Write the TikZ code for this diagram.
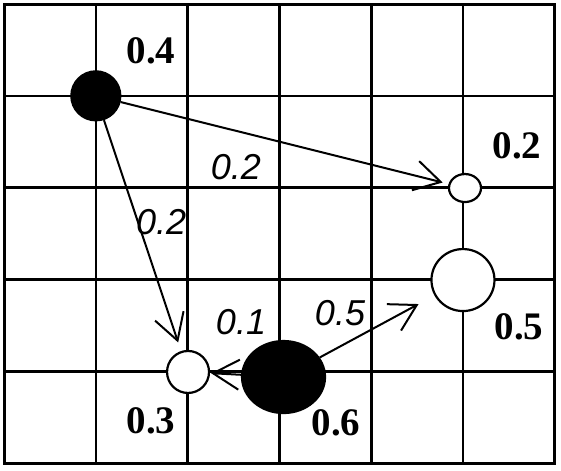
\documentclass[tikz,border=0pt]{standalone}
\usepackage{fontspec}
\setmainfont{Liberation Serif}
\newfontfamily\ratefont{Liberation Sans}
\usetikzlibrary{arrows.meta,shapes.geometric}
\tikzset{
  lat/line/.style ={line width=2.4pt, black},
  lat/frame/.style={line width=3pt, black},
  lat/site/.style ={ellipse, draw=black, line width=2.2pt, inner sep=0pt},
  lat/full/.style ={lat/site, fill=black},
  lat/empty/.style={lat/site, fill=white},
  lat/jump/.style ={-{Straight Barb[length=26pt, width=30pt]}, line width=2pt, black},
  lat/occ/.style  ={font=\fontsize{39}{39}\selectfont\bfseries, inner sep=0pt},
  lat/rate/.style ={font=\ratefont\fontsize{36}{36}\selectfont\itshape, inner sep=0pt}
}
\begin{document}
\begin{tikzpicture}[x=91.83pt, y=-91.83pt]
    \useasboundingbox (-0.0436,-0.0436) rectangle (6.0655,5.0746);
    % lattice: 6 x 5 cells
    \foreach \i in {1,...,5} { \draw[lat/line] (\i,0) -- (\i,5); }
    \foreach \j in {1,...,4} { \draw[lat/line] (0,\j) -- (6,\j); }
    \draw[lat/frame] (0,0) rectangle (6,5);
    % sites (size ~ occupation)
    \node[lat/full,  minimum width=49pt, minimum height=49pt] (a) at (1,1) {};
    \node[lat/empty, minimum width=32pt, minimum height=28pt] (b) at (5.02,2.004) {};
    \node[lat/empty, minimum width=63pt, minimum height=62pt] (e) at (4.998,3.006) {};
    \node[lat/empty, minimum width=42pt, minimum height=42pt] (c) at (2.004,4.007) {};
    \node[lat/full,  minimum width=83pt, minimum height=72pt] (d) at (3.044,4.062) {};
    % occupations
    \node[lat/occ] (occa) at (1.601,0.512) {0.4};
    \node[lat/occ] (occb) at (5.586,1.546) {0.2};
    \node[lat/occ] (occe) at (5.608,3.51)  {0.5};
    \node[lat/occ] (occc) at (1.601,4.541) {0.3};
    \node[lat/occ] (occd) at (3.615,4.563) {0.6};
    % jumps
    \draw[lat/jump, shorten >=6pt]  (a) -- (b);
    \draw[lat/jump, shorten >=9pt]  (a) -- (c);
    \draw[lat/jump, shorten >=1pt]  (d) -- (c);
    \draw[lat/jump, shorten >=18pt] (d) -- (e);
    % jump rates
    \node[lat/rate] (rab) at (2.526,1.775) {0.2};
    \node[lat/rate] (rac) at (1.710,2.374) {0.2};
    \node[lat/rate] (rdc) at (2.581,3.463) {0.1};
    \node[lat/rate] (rde) at (3.659,3.365) {0.5};
\end{tikzpicture}
\end{document}
